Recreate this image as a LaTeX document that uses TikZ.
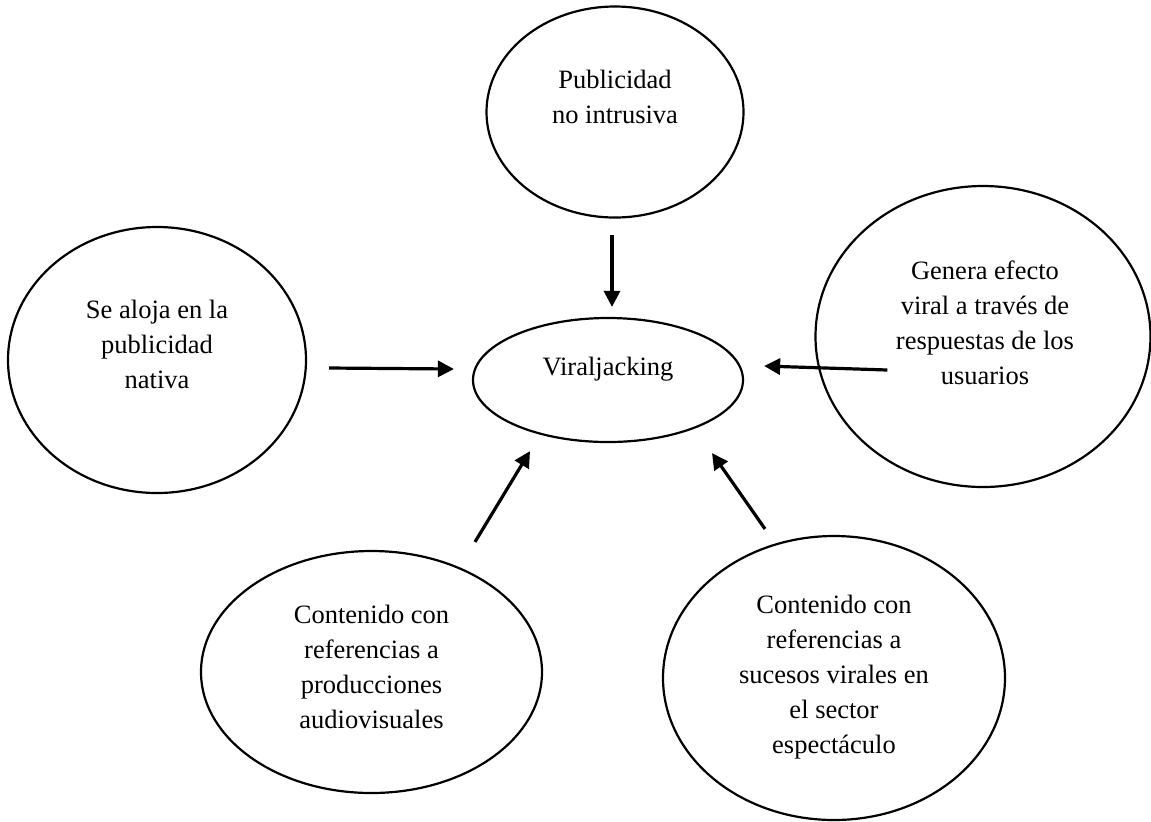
\documentclass[tikz,border=0pt]{standalone}
\usepackage{fontspec}
\setmainfont{Liberation Serif}
\usepackage{tikz}
\usetikzlibrary{shapes.geometric,arrows.meta}

\begin{document}
\begin{tikzpicture}[x=0.5pt, y=-0.5pt,
  ELL/.style={draw, ellipse, line width=1.1pt, inner sep=0pt},
  TXT/.style={anchor=north, align=center, inner sep=0pt,
              font=\fontsize{13.25pt}{17.5pt}\selectfont},
  ARR/.style={line width=1.6pt, -{Triangle[length=8pt,width=8pt]}}
]
\useasboundingbox (0,0) rectangle (1151,821);

% ellipses
\node[ELL, minimum width=135pt, minimum height=62pt] (vir) at (608,380) {};
\node[ELL, minimum width=128.5pt, minimum height=105.5pt] (pub) at (615,112) {};
\node[ELL, minimum width=149pt, minimum height=133pt] (nat) at (157,360) {};
\node[ELL, minimum width=167.5pt, minimum height=150.5pt] (gen) at (983,336.5) {};
\node[ELL, minimum width=170.5pt, minimum height=121pt] (ctv) at (371.5,672) {};
\node[ELL, minimum width=171pt, minimum height=142pt] (cse) at (834,678) {};

% texts
\node[TXT] (virtxt) at ([shift={(0,-23)}]vir.center) {Viraljacking};
\node[TXT] (pubtxt) at ([shift={(0,-42)}]pub.center) {Publicidad\\no intrusiva};
\node[TXT] (nattxt) at ([shift={(0,-60)}]nat.center) {Se aloja en la\\publicidad\\nativa};
\node[TXT] (gentxt) at ([shift={(2,-76.5)}]gen.center) {Genera efecto\\viral a través de\\respuestas de los\\usuarios};
\node[TXT] (ctvtxt) at ([shift={(0,-67)}]ctv.center) {Contenido con\\referencias a\\producciones\\audiovisuales};
\node[TXT] (csetxt) at ([shift={(0,-83)}]cse.center) {Contenido con\\referencias a\\sucesos virales en\\el sector\\espectáculo};

% arrows
\draw[ARR] ([shift={(-3,16)}]pub.south) -- ([shift={(4,-10)}]vir.north);
\draw[ARR] ([shift={(22,8)}]nat.east) -- ([shift={(-18,-11)}]vir.west);
\draw[ARR] ([shift={(73,33.5)}]gen.west) -- ([shift={(20,-14)}]vir.east);
\draw[ARR] ([shift={(103.5,-8)}]ctv.north) -- ([shift={(-78,8)}]vir.south);
\draw[ARR] ([shift={(-69,-6)}]cse.north) -- ([shift={(104,10)}]vir.south);
\end{tikzpicture}
\end{document}
